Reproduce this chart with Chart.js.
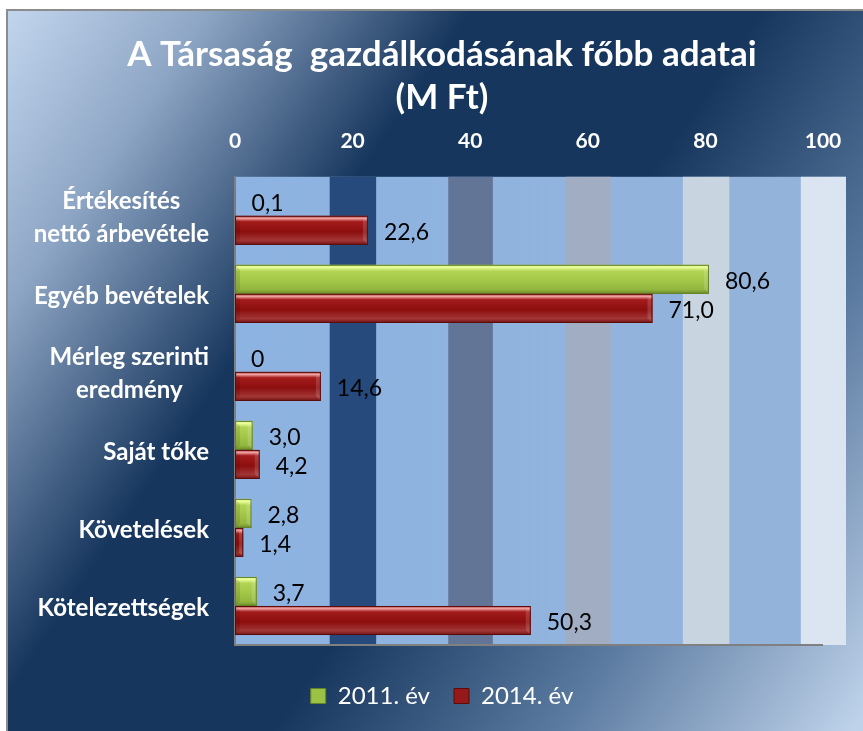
<!DOCTYPE html>
<html>
<head>
<meta charset="utf-8">
<script src="https://cdn.jsdelivr.net/npm/chart.js@4.4.1/dist/chart.umd.min.js"></script>
<style>
  html, body { margin: 0; padding: 0; background: #fff; }
  #wrap { width: 863px; height: 731px; }
</style>
</head>
<body>
<div id="wrap"><canvas id="chart" width="863" height="731"></canvas></div>
<script>
// chart data
const categories = [
  ['Értékesítés', 'nettó árbevétele'],
  'Egyéb bevételek',
  ['Mérleg szerinti', 'eredmény'],
  'Saját tőke',
  'Követelések',
  'Kötelezettségek'
];
const values2011 = [0.1, 80.6, 0, 3.0, 2.8, 3.7];
const values2014 = [22.6, 71.0, 14.6, 4.2, 1.4, 50.3];
const seriesNames = ['2011. év', '2014. év'];
const xTicks = [0, 20, 40, 60, 80, 100];

const fmt = v => v === 0 ? '0' : v.toFixed(1).replace('.', ',');

// bevel look per series
const barShades = [
  [[0, '#cfe874'], [0.08, '#ecff9c'], [0.22, '#b2d454'], [0.55, '#a2c648'], [0.85, '#92b63e'], [1, '#6c8a2a']],
  [[0, '#b04040'], [0.09, '#f0a0a0'], [0.2, '#a41c1c'], [0.55, '#8c0e0e'], [0.85, '#a23636'], [1, '#741414']]
];

// window background + striped plot area
const backdrop = {
  id: 'backdrop',
  beforeDraw(chart) {
    const { ctx, width, height, chartArea: a } = chart;
    ctx.save();
    ctx.fillStyle = '#fff';
    ctx.fillRect(0, 0, width, height);
    const g = ctx.createLinearGradient(0, 0, 923, 626);
    g.addColorStop(0, '#c6d9f1');
    g.addColorStop(0.16, '#8ea6c5');
    g.addColorStop(0.355, '#17365d');
    g.addColorStop(0.57, '#17365d');
    g.addColorStop(0.78, '#5b7aa0');
    g.addColorStop(1, '#bed2ea');
    ctx.fillStyle = g;
    ctx.fillRect(8, 11, width - 8, height - 11);
    ctx.strokeStyle = '#8c8c8c';
    ctx.lineWidth = 2;
    ctx.beginPath();
    ctx.moveTo(7, height);
    ctx.lineTo(7, 10);
    ctx.lineTo(width, 10);
    ctx.stroke();

    // plot area fill runs a bit past the axis end
    const left = a.left, w = a.right + 23 - a.left, top = a.top, h = a.bottom - a.top;
    const base = ctx.createLinearGradient(left, 0, left + w, 0);
    base.addColorStop(0, '#8db3e2');
    base.addColorStop(1, '#94b3d9');
    ctx.fillStyle = base;
    ctx.fillRect(left, top, w, h);
    const stripes = [
      [0.155, 0.231, '#264a7c'],
      [0.349, 0.422, '#627597'],
      [0.542, 0.615, '#a0adc2'],
      [0.733, 0.809, '#c9d4e1'],
      [0.926, 1, '#dbe5f1']
    ];
    stripes.forEach(([f, t, c]) => {
      ctx.fillStyle = c;
      ctx.fillRect(left + f * w, top, (t - f) * w, h);
    });
    ctx.strokeStyle = '#808080';
    ctx.lineWidth = 2;
    ctx.beginPath();
    ctx.moveTo(a.left, a.bottom);
    ctx.lineTo(a.right, a.bottom);
    ctx.stroke();
    ctx.restore();
  }
};

// shiny bars + value labels
const barDeco = {
  id: 'barDeco',
  afterDatasetsDraw(chart) {
    const { ctx } = chart;
    ctx.save();
    chart.data.datasets.forEach((ds, di) => {
      const meta = chart.getDatasetMeta(di);
      meta.data.forEach((el, i) => {
        const { x, y, base, height } = el.getProps(['x', 'y', 'base', 'height'], true);
        const l = Math.min(x, base), w = Math.abs(x - base), t = y - height / 2;
        if (w >= 1) {
          const g = ctx.createLinearGradient(0, t, 0, t + height);
          barShades[di].forEach(([o, c]) => g.addColorStop(o, c));
          ctx.fillStyle = g;
          ctx.fillRect(l, t, w, height);
          const e = Math.min(5, w / 2);
          ctx.fillStyle = 'rgba(255,255,255,0.14)';
          ctx.beginPath();
          ctx.moveTo(l + w, t); ctx.lineTo(l + w - e, t + e); ctx.lineTo(l + w - e, t + height - e); ctx.lineTo(l + w, t + height);
          ctx.closePath(); ctx.fill();
          ctx.fillStyle = 'rgba(0,0,0,0.10)';
          ctx.beginPath();
          ctx.moveTo(l, t); ctx.lineTo(l + e, t + e); ctx.lineTo(l + e, t + height - e); ctx.lineTo(l, t + height);
          ctx.closePath(); ctx.fill();
          ctx.strokeStyle = ds.borderColor;
          ctx.lineWidth = 1;
          ctx.strokeRect(l + 0.5, t + 0.5, w - 1, height - 1);
        }
        ctx.fillStyle = '#000';
        ctx.font = '23px Lato';
        ctx.textAlign = 'left';
        ctx.textBaseline = 'middle';
        ctx.fillText(fmt(ds.data[i]), x + 16, y + 2);
      });
    });
    ctx.restore();
  }
};

// category labels: block right aligned, lines centred to each other
const catLabels = {
  id: 'catLabels',
  afterDraw(chart) {
    const { ctx } = chart;
    const sy = chart.scales.y;
    ctx.save();
    ctx.font = 'bold 24px Lato';
    ctx.fillStyle = '#fff';
    ctx.textAlign = 'center';
    ctx.textBaseline = 'middle';
    categories.forEach((c, i) => {
      const lines = Array.isArray(c) ? c : [c];
      const bw = Math.max(...lines.map(s => ctx.measureText(s).width));
      const cx = sy.right - 26 - bw / 2;
      const cy = sy.getPixelForValue(i) + 2;
      lines.forEach((s, j) => ctx.fillText(s, cx, cy + (j - (lines.length - 1) / 2) * 33));
    });
    ctx.restore();
  }
};

new Chart(document.getElementById('chart'), {
  type: 'bar',
  data: {
    labels: categories,
    datasets: [
      {
        label: seriesNames[0],
        data: values2011,
        backgroundColor: '#9cc243',
        borderColor: '#64822a',
        borderWidth: 1,
        borderSkipped: false
      },
      {
        label: seriesNames[1],
        data: values2014,
        backgroundColor: '#961818',
        borderColor: '#5a0c0c',
        borderWidth: 1,
        borderSkipped: false
      }
    ]
  },
  options: {
    indexAxis: 'y',
    responsive: false,
    animation: false,
    events: [],
    layout: { padding: { left: 21, right: 0, top: 0, bottom: 13 } },
    datasets: { bar: { categoryPercentage: 0.744, barPercentage: 1 } },
    scales: {
      x: {
        position: 'top',
        min: xTicks[0],
        max: xTicks[xTicks.length - 1],
        grid: { display: false, drawTicks: false },
        border: { display: false },
        ticks: {
          stepSize: xTicks[1] - xTicks[0],
          color: '#fff',
          font: { family: 'Lato', size: 21, weight: 'bold' },
          padding: 23
        },
        afterFit: s => { s.height = 57; s.paddingRight = 40; }
      },
      y: {
        grid: { display: false },
        border: { display: true, color: '#7f7f7f', width: 2 },
        ticks: { display: false },
        afterFit: s => { s.width = 214; }
      }
    },
    plugins: {
      title: {
        display: true,
        text: ['A Társaság  gazdálkodásának főbb adatai', '(M Ft)'],
        color: '#fff',
        font: { family: 'Lato', size: 35, weight: 'bold', lineHeight: 1.24 },
        padding: { top: 33, bottom: 0 }
      },
      legend: {
        position: 'bottom',
        title: { display: true, text: ' ', font: { size: 10, lineHeight: 1.2 }, padding: { top: 3, bottom: 0 } },
        labels: {
          color: '#fff',
          font: { family: 'Lato', size: 24 },
          boxWidth: 15,
          boxHeight: 15,
          padding: 24
        }
      },
      tooltip: { enabled: false }
    }
  },
  plugins: [backdrop, barDeco, catLabels]
});
</script>
</body>
</html>
